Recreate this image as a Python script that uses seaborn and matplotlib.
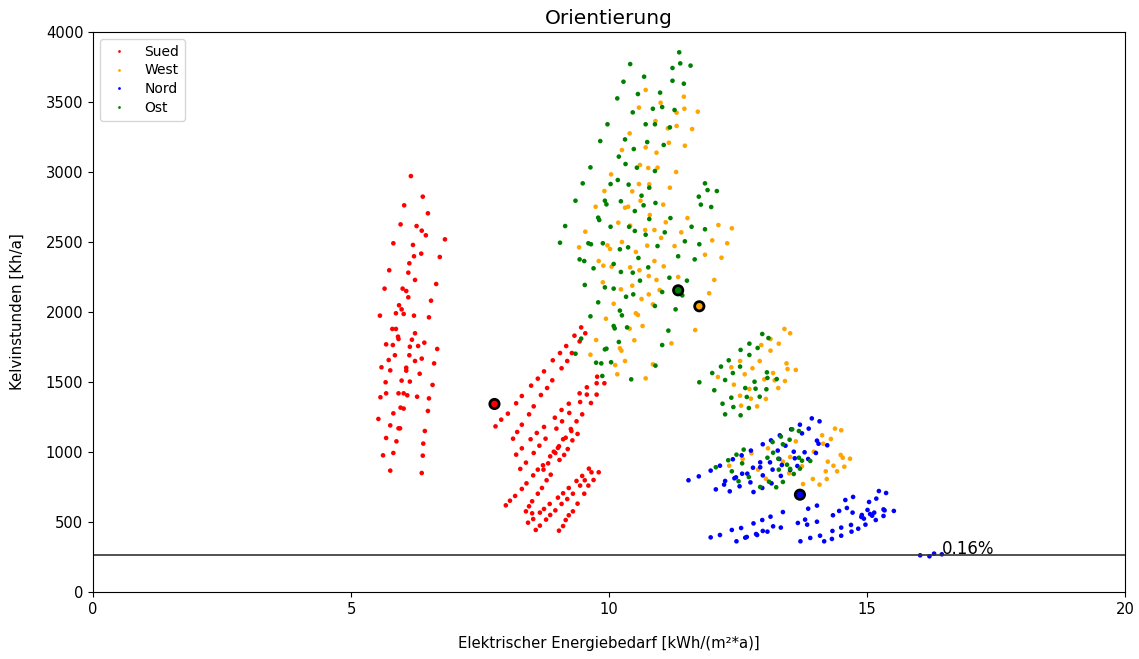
import matplotlib
matplotlib.use("Agg")
import matplotlib.pyplot as plt
import seaborn as sns
import pandas as pd

# points (x = kWh/(m²*a), y = Kh/a)
sued_pts = [
    (6.16, 2971), (6.39, 2824), (6.03, 2762), (6.49, 2705), (5.96, 2626), (6.27, 2614),
    (6.37, 2581), (6.45, 2548), (6.82, 2519), (5.82, 2491), (6.20, 2479), (6.36, 2417),
    (6.22, 2398), (6.72, 2393), (6.13, 2348), (5.74, 2298), (6.11, 2281), (6.24, 2229),
    (6.65, 2200), (5.65, 2167), (6.00, 2167), (6.07, 2150), (6.11, 2105), (6.55, 2081),
    (5.93, 2048), (5.98, 2019), (5.87, 1991), (6.02, 1986), (5.56, 1974), (6.22, 1974),
    (6.51, 1962), (5.80, 1879), (5.87, 1879), (6.24, 1848), (5.91, 1824), (5.92, 1807),
    (6.18, 1802), (5.68, 1769), (5.81, 1764), (6.42, 1781), (6.14, 1752), (6.30, 1757),
    (6.67, 1736), (5.85, 1691), (6.13, 1691), (5.73, 1657), (6.24, 1650), (6.37, 1667),
    (6.61, 1633), (5.59, 1605), (5.76, 1583), (6.07, 1602), (6.07, 1581), (6.33, 1559),
    (5.67, 1498), (5.98, 1510), (6.14, 1503), (6.58, 1479), (5.68, 1419), (5.92, 1419),
    (6.02, 1419), (6.09, 1405), (6.28, 1395), (5.57, 1391), (6.51, 1383), (5.96, 1317),
    (6.02, 1310), (6.49, 1293), (5.82, 1276), (5.53, 1236), (5.76, 1190), (5.92, 1169),
    (5.95, 1169), (6.43, 1150), (5.68, 1100), (5.88, 1076), (6.40, 1060), (5.62, 976),
    (5.82, 993), (6.39, 974), (5.76, 867), (6.37, 850),
    (9.46, 1890), (9.54, 1848), (9.33, 1831), (9.43, 1790), (9.17, 1757), (9.05, 1707),
    (9.28, 1707), (8.91, 1655), (9.19, 1650), (9.08, 1598), (8.74, 1576), (8.62, 1524),
    (8.90, 1512), (8.49, 1474), (8.80, 1457), (8.31, 1400), (8.68, 1407), (8.20, 1348),
    (8.04, 1274), (8.54, 1326), (8.45, 1269), (7.91, 1231), (7.80, 1183), (8.31, 1195),
    (8.22, 1143), (8.14, 1095), (8.60, 1136), (8.48, 1091), (8.77, 1095), (8.74, 1179),
    (8.31, 1026), (8.65, 1045), (8.20, 981), (8.54, 993), (8.39, 924), (8.28, 879),
    (8.53, 833), (8.40, 776), (8.31, 736), (8.18, 686), (8.08, 652), (8.00, 619),
    (8.51, 648), (8.62, 702), (8.70, 743), (8.79, 798), (8.87, 838), (8.73, 874),
    (8.82, 919), (8.72, 905), (8.62, 874), (8.93, 1002), (8.96, 993), (8.86, 969),
    (9.04, 943), (9.03, 1041), (9.01, 1029), (9.13, 979), (9.20, 1021), (9.16, 1102),
    (9.11, 1091), (9.29, 1083), (9.26, 1164), (9.27, 1150), (9.39, 1129), (9.37, 1219),
    (8.98, 1167), (9.09, 1219), (8.95, 1245), (9.08, 1300), (9.23, 1279), (9.22, 1345),
    (9.48, 1269), (9.44, 1357), (9.43, 1419), (9.57, 1410), (9.65, 1350), (9.57, 1462),
    (9.76, 1410), (9.76, 1491), (9.91, 1491), (9.77, 1538),
    (9.61, 881), (9.66, 855), (9.80, 855), (9.48, 829), (9.53, 798), (9.70, 800),
    (9.37, 793), (9.44, 760), (9.60, 760), (9.22, 743), (9.11, 705), (9.30, 702),
    (9.52, 702), (9.01, 674), (9.19, 664), (9.39, 631), (8.85, 629), (9.08, 629),
    (8.74, 593), (8.96, 583), (9.30, 576), (8.66, 567), (8.86, 550), (9.22, 548),
    (8.51, 562), (8.45, 612), (8.39, 576), (8.78, 517), (9.16, 514), (8.53, 521),
    (8.43, 495), (8.66, 474), (9.11, 471), (8.58, 443), (9.03, 438),
]

west_pts = [
    (10.71, 3586), (11.00, 3495), (10.58, 3460), (11.45, 3538), (11.31, 3424), (11.46, 3452),
    (11.72, 3431), (10.90, 3364), (11.14, 3312), (11.31, 3329), (11.61, 3307), (10.40, 3276),
    (10.25, 3157), (10.71, 3176), (11.16, 3209), (11.47, 3188), (10.92, 3138), (10.60, 3050),
    (10.76, 3029), (10.94, 3031), (11.30, 3000), (10.04, 2983), (9.91, 2864), (10.58, 2914),
    (10.78, 2912), (10.45, 2862), (11.18, 2888), (9.74, 2752), (10.31, 2745), (10.37, 2752),
    (10.61, 2795), (11.05, 2767), (10.79, 2693), (11.52, 2671), (10.18, 2638), (11.10, 2641),
    (9.54, 2574), (10.41, 2617), (10.70, 2586), (10.88, 2586), (11.40, 2569), (12.12, 2621),
    (12.38, 2598), (10.25, 2500), (9.97, 2476), (10.02, 2450), (9.42, 2462), (11.01, 2529),
    (10.74, 2474), (11.27, 2471), (12.00, 2512), (12.29, 2491), (10.52, 2429), (11.86, 2409),
    (12.18, 2388), (9.80, 2364), (9.89, 2331), (10.05, 2324), (10.88, 2364), (11.06, 2326),
    (10.41, 2319), (10.59, 2298), (10.77, 2257), (10.92, 2229), (11.34, 2250), (12.04, 2229),
    (9.88, 2212), (10.45, 2188), (10.23, 2162), (10.98, 2157), (11.94, 2134), (10.63, 2093),
    (10.77, 2126), (10.09, 2059), (10.85, 2055), (9.94, 1952), (10.52, 1991), (10.56, 1979),
    (10.40, 1881), (10.65, 1900), (11.67, 1871), (9.75, 1800), (10.49, 1798), (10.21, 1741),
    (10.24, 1724), (11.21, 1776), (9.64, 1695), (10.31, 1650), (10.12, 1621), (10.85, 1626),
    (10.16, 1555), (10.71, 1526),
    (13.40, 1879), (13.51, 1848), (13.13, 1807), (12.95, 1764), (13.29, 1774), (13.13, 1724),
    (12.54, 1650), (12.92, 1650), (12.37, 1605), (12.78, 1598), (13.44, 1633), (13.46, 1593),
    (13.62, 1586), (12.63, 1555), (13.18, 1564), (12.11, 1536), (13.01, 1519), (13.21, 1512),
    (13.41, 1507), (12.42, 1481), (12.72, 1450), (13.28, 1457), (12.54, 1402), (12.75, 1381),
    (13.04, 1379), (12.56, 1331), (12.87, 1326),
    (14.38, 1167), (14.50, 1155), (14.13, 1119), (14.30, 1093), (14.15, 1059), (13.97, 1002),
    (13.08, 1026), (13.62, 1076), (12.76, 991), (12.59, 950), (12.33, 902), (13.37, 931),
    (13.51, 964), (14.49, 979), (14.53, 959), (14.67, 952), (14.24, 931), (14.35, 902),
    (14.56, 895), (14.20, 862), (14.42, 862), (12.89, 874), (13.04, 809), (13.49, 848),
    (13.74, 898), (13.76, 771), (13.95, 807), (14.08, 767), (14.22, 807),
]

nord_pts = [
    (13.93, 1240), (14.08, 1219), (13.70, 1195), (13.87, 1167), (13.53, 1162), (13.31, 1119),
    (13.74, 1133), (12.98, 1055), (13.14, 1083), (13.27, 1010), (13.42, 1045), (13.58, 1002),
    (13.79, 998), (14.03, 1081), (14.06, 1059), (14.23, 1048), (14.01, 993), (12.75, 1010),
    (12.57, 976), (12.40, 948), (12.93, 926), (13.12, 926), (13.30, 950), (13.60, 955),
    (13.86, 950), (12.15, 902), (11.97, 867), (12.79, 888), (12.93, 891), (13.17, 874),
    (13.35, 907), (13.51, 871), (13.65, 900), (11.54, 798), (11.74, 826), (12.25, 793),
    (12.23, 767), (12.43, 812), (12.46, 819), (12.58, 845), (12.68, 845), (12.74, 783),
    (12.98, 833), (13.15, 776), (13.33, 829), (12.07, 733), (12.34, 719), (12.53, 755),
    (12.80, 714), (12.97, 743),
    (15.23, 721), (15.37, 707), (14.73, 679), (14.58, 657), (15.18, 667), (15.04, 643),
    (13.86, 595), (14.03, 617), (14.34, 548), (14.46, 579), (14.61, 600), (14.72, 567),
    (14.90, 550), (14.89, 536), (14.94, 524), (15.01, 586), (15.06, 557), (15.10, 545),
    (15.14, 567), (15.17, 514), (15.32, 590), (15.34, 583), (15.32, 543), (15.52, 579),
    (13.37, 571), (13.13, 538), (12.97, 514), (12.80, 490), (12.56, 457), (12.38, 443),
    (13.18, 469), (13.33, 460), (12.98, 436), (13.07, 431), (12.85, 414), (12.87, 407),
    (12.15, 407), (11.97, 390), (12.47, 362), (12.64, 388), (12.67, 393), (13.66, 493),
    (13.80, 517), (14.03, 502), (13.84, 481), (14.33, 436), (14.50, 460), (14.69, 479),
    (14.70, 431), (14.83, 452), (14.97, 481), (14.50, 402), (14.32, 379), (14.17, 362),
    (14.09, 402), (13.90, 386), (13.71, 362),
    (16.03, 262), (16.21, 255), (16.30, 274), (16.45, 269),
]

ost_pts = [
    (11.36, 3855), (10.41, 3771), (11.38, 3776), (11.58, 3760), (11.23, 3743), (10.68, 3681),
    (11.23, 3652), (10.28, 3645), (11.45, 3631), (10.56, 3557), (10.99, 3567), (10.16, 3526),
    (10.85, 3452), (11.03, 3464), (11.27, 3443), (10.46, 3426), (11.18, 3319), (10.71, 3341),
    (10.89, 3341), (9.97, 3341), (10.74, 3214), (10.31, 3233), (9.83, 3221), (11.06, 3193),
    (10.48, 3164), (10.19, 3110), (10.32, 3057), (10.54, 3031), (9.64, 3033), (10.89, 3007),
    (10.17, 2943), (10.03, 2914), (10.38, 2910), (10.78, 2888), (9.49, 2919), (11.86, 2919),
    (11.91, 2871), (12.09, 2864), (10.63, 2831), (11.74, 2824), (9.35, 2795), (9.92, 2795),
    (10.23, 2791), (9.95, 2769), (10.67, 2762), (11.78, 2767), (11.98, 2750), (10.90, 2779),
    (10.50, 2721), (9.79, 2674), (9.81, 2657), (10.78, 2664), (11.19, 2671), (9.15, 2614),
    (10.03, 2609), (10.39, 2609), (11.60, 2609), (10.50, 2579), (11.86, 2591), (10.71, 2552),
    (11.08, 2569), (9.05, 2495), (9.60, 2491), (9.65, 2484), (9.88, 2491), (10.21, 2448),
    (10.37, 2462), (10.94, 2471), (11.47, 2505), (11.75, 2484), (10.57, 2386), (11.34, 2398),
    (9.43, 2376), (9.52, 2364), (10.09, 2343), (11.66, 2376), (9.70, 2312), (10.76, 2319),
    (10.23, 2286), (10.46, 2281), (11.17, 2245), (10.60, 2224), (11.51, 2224), (9.53, 2193),
    (9.92, 2176), (10.09, 2167), (10.33, 2109), (10.47, 2126), (11.03, 2143), (11.42, 2119),
    (10.89, 2043), (9.79, 2069), (10.21, 2010), (10.25, 1976), (11.29, 2019), (9.64, 1969),
    (10.09, 1900), (10.11, 1883), (10.35, 1890), (11.15, 1867), (9.46, 1810), (10.19, 1786),
    (9.92, 1733), (9.95, 1738), (11.03, 1764), (9.75, 1638), (9.85, 1633), (10.04, 1641),
    (10.90, 1617), (9.87, 1543), (10.43, 1519), (9.35, 1702),
    (12.97, 1843), (13.09, 1814), (12.72, 1774), (12.55, 1729), (12.88, 1743), (12.72, 1693),
    (12.32, 1655), (12.54, 1610), (12.17, 1610), (12.40, 1564), (12.00, 1564), (13.06, 1569),
    (12.25, 1514), (12.82, 1502), (11.75, 1498), (13.25, 1521), (13.07, 1529), (12.64, 1457),
    (12.04, 1441), (12.84, 1452), (13.05, 1448), (12.37, 1388), (12.67, 1393), (12.92, 1395),
    (12.20, 1345), (12.41, 1321), (12.71, 1314), (12.25, 1269), (12.55, 1262),
    (13.55, 1162), (13.68, 1150), (13.33, 1110), (13.50, 1088), (13.17, 1071), (13.37, 1055),
    (13.18, 995), (12.61, 1017), (12.47, 981), (12.31, 941), (12.07, 891), (12.58, 919),
    (12.38, 862), (13.07, 959), (13.28, 952), (13.45, 909), (13.68, 959), (13.74, 938),
    (13.90, 936), (13.29, 874), (13.51, 879), (13.70, 881), (13.58, 843), (13.37, 786),
    (13.24, 748), (13.10, 788), (12.93, 750), (12.71, 821), (12.51, 791),
]

# circled points
marked = {"Sued": (7.78, 1343), "West": (11.75, 2041), "Ost": (11.34, 2155), "Nord": (13.70, 695)}

order = ["Sued", "West", "Nord", "Ost"]
farben = {"Sued": "red", "West": "orange", "Nord": "blue", "Ost": "green"}
grenze = 263
grenze_text = "0.16%"
xticks = [0, 5, 10, 15, 20]

frames = []
for name, pts in zip(order, [sued_pts, west_pts, nord_pts, ost_pts]):
    xs, ys = zip(*pts)
    frames.append(pd.DataFrame({"x": xs, "y": ys, "ori": name}))
df = pd.concat(frames, ignore_index=True)

mk = pd.DataFrame({"x": [marked[k][0] for k in order],
                   "y": [marked[k][1] for k in order],
                   "ori": order})

fig, ax = plt.subplots(figsize=(11.39, 6.59), dpi=100)
fig.subplots_adjust(left=0.0817, right=0.9877, top=0.9514, bottom=0.1017)

sns.scatterplot(data=df, x="x", y="y", hue="ori", hue_order=order, palette=farben,
                s=11, linewidth=0, ax=ax)
sns.scatterplot(data=mk, x="x", y="y", hue="ori", hue_order=order, palette=farben,
                s=45, edgecolor="black", linewidth=2, legend=False, ax=ax, zorder=5)

ax.axhline(grenze, color="#333333", lw=1.2)
last = nord_pts[-1]
ax.text(last[0], last[1], grenze_text, fontsize=12)

ax.set_xlim(0, 20)
ax.set_ylim(0, 4000)
ax.set_xticks(xticks)
ax.set_title("Orientierung", fontsize=14.5)
ax.set_xlabel("Elektrischer Energiebedarf [kWh/(m²*a)]", fontsize=10.7, labelpad=14)
ax.set_ylabel("Kelvinstunden [Kh/a]", fontsize=10.8, labelpad=15)
ax.tick_params(labelsize=10.6)

handles, labels = ax.get_legend_handles_labels()
ax.legend(handles, labels, loc="upper left", fontsize=10, markerscale=0.6,
          labelspacing=0.35)

fig.savefig("out.png", dpi=100)
